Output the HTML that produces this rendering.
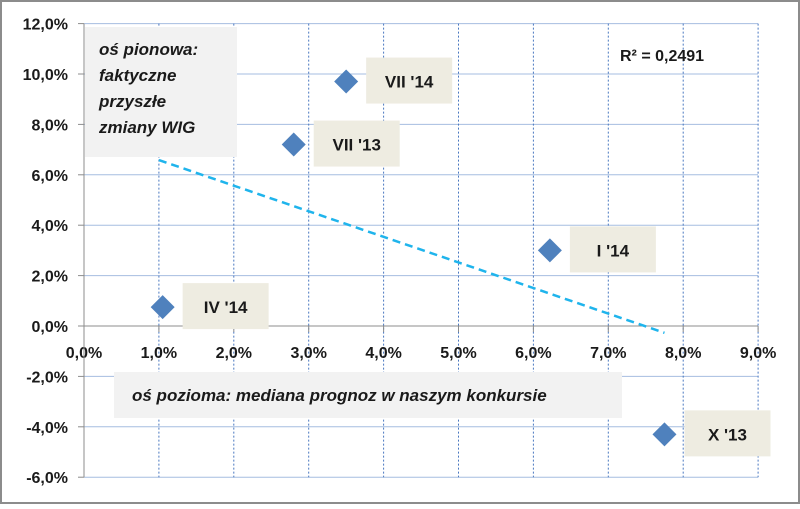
<!DOCTYPE html>
<html><head><meta charset="utf-8"><style>
body{margin:0;background:#fff;}
svg text{font-family:"Liberation Sans",Arial,sans-serif;}
</style></head><body>
<svg id="chart" width="800" height="504">
<rect x="1" y="1" width="798" height="502" fill="#fff" stroke="#8c8c8c" stroke-width="2"/>
<g id="grid"></g>
<g id="axes"></g>
<rect x="85" y="27" width="152" height="130" fill="#f2f2f2"/>
<text font-size="17" font-style="italic" font-weight="bold" fill="#1a1a1a">
<tspan x="99" y="55">oś pionowa:</tspan><tspan x="99" y="81">faktyczne</tspan><tspan x="99" y="107">przyszłe</tspan><tspan x="99" y="133">zmiany WIG</tspan></text>
<rect x="114" y="372" width="508" height="46" fill="#f2f2f2"/>
<text x="132" y="401" font-size="17" font-style="italic" font-weight="bold" fill="#1a1a1a">oś pozioma: mediana prognoz w naszym konkursie</text>
<text x="620" y="61" font-size="16" font-weight="bold" fill="#1a1a1a">R² = 0,2491</text>
<g id="marks"></g>
</svg>
<script>
const categories=["IV '14","VII '13","VII '14","I '14","X '13"];
const xValues=[1.05,2.8,3.5,6.22,7.75];
const yValues=[0.75,7.2,9.7,3.0,-4.3];
const xTicks=[0,1,2,3,4,5,6,7,8,9];
const yTicks=[12,10,8,6,4,2,0,-2,-4,-6];
const NS="http://www.w3.org/2000/svg";
const X=v=>84+v*74.9;
const Y=v=>326-v*25.2;
function mk(tag,attrs,parent){const e=document.createElementNS(NS,tag);for(const k in attrs)e.setAttribute(k,attrs[k]);document.getElementById(parent).appendChild(e);return e;}
const fmt=v=>v.toFixed(1).replace('.',',')+'%';
yTicks.forEach(t=>{
 const l=mk('line',{x1:84,x2:758,y1:Y(t),y2:Y(t),stroke:'#a6bde0','stroke-width':1},'grid');
 
 
 const tk=mk('line',{x1:78,x2:84,y1:Y(t),y2:Y(t),stroke:'#8c8c8c'},'axes');
 
 
 const tx=mk('text',{x:68,y:Y(t)+6,'text-anchor':'end','font-size':16,'font-weight':'bold',fill:'#1a1a1a'},'axes');
 tx.textContent=fmt(t);
 
 
});
xTicks.forEach(t=>{
 if(t>0){const l=mk('line',{x1:X(t),x2:X(t),y1:Y(12),y2:Y(-6),stroke:'#4a78c0','stroke-width':1,'stroke-dasharray':'2,2'},'grid');
 
 }
 const tk=mk('line',{x1:X(t),x2:X(t),y1:326,y2:332,stroke:'#8c8c8c'},'axes');
 
 
 const tx=mk('text',{x:X(t),y:358,'text-anchor':'middle','font-size':16,'font-weight':'bold',fill:'#1a1a1a'},'axes');
 tx.textContent=fmt(t);
 
 
});
const ya=mk('line',{x1:84,x2:84,y1:Y(12),y2:Y(-6),stroke:'#8c8c8c'},'axes');


const xa=mk('line',{x1:84,x2:758,y1:326,y2:326,stroke:'#8c8c8c'},'axes');


// trendline
const n=xValues.length;
const mx=xValues.reduce((a,b)=>a+b)/n, my=yValues.reduce((a,b)=>a+b)/n;
let sxy=0,sxx=0;for(let i=0;i<n;i++){sxy+=(xValues[i]-mx)*(yValues[i]-my);sxx+=(xValues[i]-mx)**2;}
const slope=sxy/sxx, icpt=my-slope*mx;
const xmin=Math.min(...xValues)-0.05, xmax=Math.max(...xValues);
const tl=mk('line',{x1:X(xmin),y1:Y(icpt+slope*xmin),x2:X(xmax),y2:Y(icpt+slope*xmax),stroke:'#1fb4ec','stroke-width':2.5,'stroke-dasharray':'8,5'},'marks');


categories.forEach((c,i)=>{
 const cx=X(xValues[i]),cy=Y(yValues[i]);
 const d=mk('polygon',{points:`${cx},${cy-12} ${cx+12},${cy} ${cx},${cy+12} ${cx-12},${cy}`,fill:'#4f81bd'},'marks');
 
 
 const r=mk('rect',{x:cx+20,y:cy-24,width:86,height:46,fill:'#eeece1'},'marks');
 
 
 const t=mk('text',{x:cx+63,y:cy+6,'text-anchor':'middle','font-size':17,'font-weight':'bold',fill:'#1a1a1a'},'marks');
 t.textContent=c;
 
 
});
</script>
</body></html>
